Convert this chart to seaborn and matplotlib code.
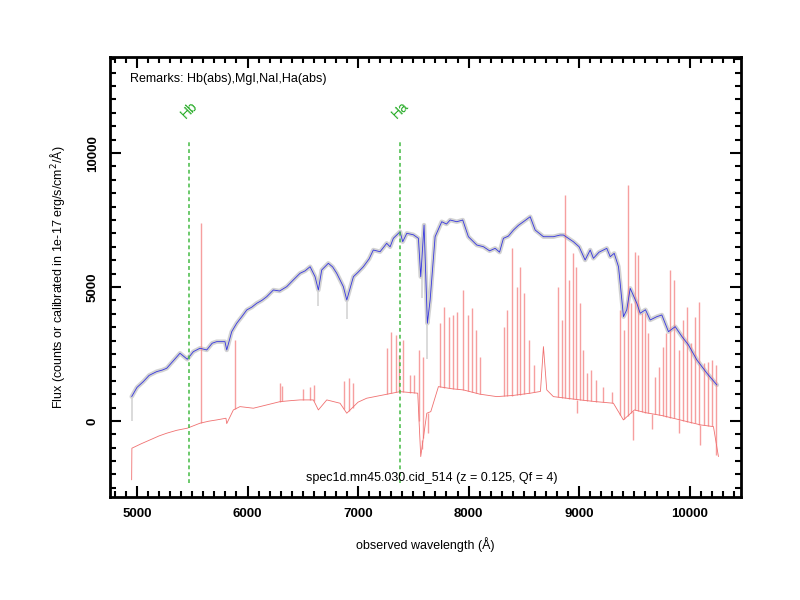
import matplotlib
matplotlib.use("Agg")
import matplotlib.pyplot as plt
import matplotlib.ticker as ticker
import seaborn as sns
import pandas as pd
import numpy as np

# smoothed spectrum (blue)
blue_wave = [4952, 5000, 5057, 5110, 5178, 5230, 5269, 5330, 5389, 5455, 5510, 5570,
             5631, 5680, 5721, 5796, 5812, 5857, 5902, 5950, 5993, 6040, 6083, 6130,
             6174, 6234, 6290, 6355, 6414, 6475, 6520, 6566, 6611, 6641, 6671, 6731,
             6770, 6807, 6867, 6898, 6958, 7000, 7048, 7100, 7138, 7199, 7259, 7290,
             7319, 7380, 7404, 7441, 7500, 7546, 7567, 7597, 7627, 7652, 7697, 7757,
             7800, 7833, 7893, 7947, 7998, 8074, 8134, 8190, 8240, 8280, 8315, 8360,
             8406, 8450, 8496, 8557, 8602, 8677, 8767, 8828, 8858, 8948, 9000, 9054,
             9100, 9129, 9180, 9250, 9281, 9317, 9356, 9371, 9401, 9431, 9462, 9522,
             9552, 9600, 9643, 9703, 9748, 9808, 9869, 9930, 9989, 10065, 10156, 10246]
blue_flux = [907, 1250, 1466, 1700, 1840, 1900, 1966, 2250, 2526, 2302, 2586, 2713,
             2649, 2900, 2959, 2959, 2649, 3332, 3644, 3900, 4142, 4250, 4391, 4500,
             4638, 4888, 4850, 5012, 5261, 5511, 5600, 5757, 5385, 4888, 5634, 5884,
             5750, 5511, 5012, 4515, 5385, 5550, 5757, 6050, 6381, 6317, 6630, 6500,
             6817, 7063, 6690, 7004, 6950, 6817, 5384, 7313, 3645, 4515, 6877, 7437,
             7350, 7500, 7437, 7500, 6877, 6567, 6504, 6350, 6443, 6300, 6817, 6900,
             7127, 7300, 7437, 7623, 7127, 6877, 6877, 6940, 6940, 6690, 6500, 6007,
             6381, 6071, 6300, 6443, 6131, 6257, 5757, 5149, 3892, 4150, 4950, 4391,
             4019, 4150, 3769, 3892, 3955, 3332, 3519, 3150, 2836, 2276, 1780, 1343]

# deep dips of the raw (grey) spectrum
grey_dip_wave = [4952, 6641, 6898, 7576, 7627]
grey_dip_low = [0, 4300, 3800, 4600, 2300]
grey_dip_high = [1000, 4900, 4500, 5400, 3650]

# error / sky spectrum (red) continuum
red_wave = [4952, 4954, 5040, 5118, 5200, 5269, 5360, 5455, 5570, 5650, 5721, 5805,
            5812, 5872, 5932, 6053, 6174, 6294, 6400, 6475, 6596, 6641, 6717, 6837,
            6898, 7000, 7078, 7229, 7380, 7470, 7540, 7567, 7622, 7658, 7727, 7850,
            7953, 8100, 8255, 8400, 8557, 8650, 8677, 8707, 8767, 9009, 9150, 9310,
            9400, 9500, 9611, 9750, 9914, 10100, 10215, 10260]
red_flux = [-2200, -1019, -850, -709, -560, -459, -350, -272, -86, -10, 37, 100,
            -100, 410, 534, 474, 597, 720, 760, 784, 784, 410, 784, 660,
            287, 700, 847, 970, 1093, 1060, 1034, -1332, 287, 347, 1280, 1200,
            1157, 1000, 907, 950, 1034, 1100, 2773, 1157, 907, 784, 720, 660,
            37, 410, 300, 200, 37, -150, -213, -1332]

# sky line residuals (red spikes): wavelength and peak flux
sky_wave = [5579, 5887, 6294, 6310, 6500, 6566, 6600, 6870, 6920, 6950,
            7260, 7299, 7344, 7374, 7404, 7471, 7510, 7552, 7591,
            7742, 7781, 7827, 7857, 7893, 7947, 7998, 8029, 8065, 8104,
            8321, 8346, 8391, 8436, 8466, 8505, 8550, 8596,
            8813, 8843, 8873, 8912, 8942, 8973, 9009, 9039, 9069, 9106, 9154, 9214, 9296,
            9371, 9407, 9441, 9471, 9501, 9536, 9567, 9597, 9627, 9688, 9718, 9757, 9787,
            9824, 9860, 9899, 9939, 9980, 10014, 10044, 10086, 10125, 10165, 10201, 10240]
sky_peak = [7377, 3022, 1418, 1300, 1200, 1280, 1350, 1500, 1600, 1400,
            2713, 3332, 3209, 2463, 3022, 1716, 1716, 2649, 2400,
            3645, 4265, 3892, 3955, 4078, 4888, 3955, 4205, 3396, 2400,
            3519, 4142, 6443, 5012, 5757, 4764, 3022, 2090,
            5012, 3769, 8433, 5261, 6257, 5757, 4391, 2649, 1780, 1903, 1530, 1280, 1093,
            4142, 3396, 8806, 4391, 6317, 6194, 4019, 4019, 3272, 1653, 2026, 2773, 3272,
            5634, 5261, 2649, 3769, 4265, 2899, 3892, 4452, 2153, 2213, 2276, 2090]

# negative residuals below the red continuum
neg_wave = [7576, 7631, 8979, 9489, 9660, 9900, 10095, 10240]
neg_low = [-709, -459, 287, -709, -300, -450, -895, -1268]

lines_name = ["Hb", "Ha"]
lines_wave = [5469, 7383]

remarks = "Remarks: Hb(abs),MgI,NaI,Ha(abs)"
title = "spec1d.mn45.030.cid_514 (z = 0.125, Qf = 4)"

sns.set_style("ticks")
plt.rcParams['font.family'] = ['Liberation Sans', 'DejaVu Sans']
plt.rcParams['text.color'] = 'black'
plt.rcParams['axes.labelcolor'] = 'black'
plt.rcParams['axes.edgecolor'] = 'black'
plt.rcParams['xtick.color'] = 'black'
plt.rcParams['ytick.color'] = 'black'

fig = plt.figure(figsize=(8, 6), dpi=100)
ax = fig.add_axes([0.1375, 0.1717, 0.789, 0.733])

blue = pd.DataFrame({'wave': blue_wave, 'flux': blue_flux})
red = pd.DataFrame({'wave': red_wave, 'flux': red_flux})

# raw spectrum as a grey band under the smoothed one
sns.lineplot(data=blue, x='wave', y='flux', ax=ax, color='#c4c4c4', lw=3.2,
             alpha=0.75, estimator=None, sort=False)
ax.vlines(grey_dip_wave, grey_dip_low, grey_dip_high, color='#d4d4d4', lw=1.2)

# red spectrum
sky_base = np.interp(sky_wave, red_wave, red_flux)
ax.vlines(sky_wave, sky_base, sky_peak, color='#f58e8e', lw=1.0, alpha=0.85)
neg_base = np.interp(neg_wave, red_wave, red_flux)
ax.vlines(neg_wave, neg_low, neg_base, color='#f58e8e', lw=1.0, alpha=0.85)
sns.lineplot(data=red, x='wave', y='flux', ax=ax, color='#f07070', lw=0.6,
             estimator=None, sort=False)

sns.lineplot(data=blue, x='wave', y='flux', ax=ax, color='#3535e0', lw=0.6,
             estimator=None, sort=False)

# line markers
for name, w in zip(lines_name, lines_wave):
    ax.vlines(w, -2300, 10500, color='#44bb44', lw=1.1, linestyles=(0, (2.5, 2)))
    ax.text(w, 11600, name, color='#22aa22', rotation=45, ha='center', va='center',
            fontsize=10)

ax.text(0.032, 0.965, remarks, transform=ax.transAxes, fontsize=9, va='top')
ax.text(0.51, 0.03, title, transform=ax.transAxes, fontsize=9, ha='center', va='bottom')

ax.set_xlim(4756, 10466)
ax.set_ylim(-2840, 13580)
ax.xaxis.set_major_locator(ticker.MultipleLocator(1000))
ax.xaxis.set_minor_locator(ticker.MultipleLocator(100))
ax.yaxis.set_major_locator(ticker.MultipleLocator(5000))
ax.yaxis.set_minor_locator(ticker.MultipleLocator(500))
ax.tick_params(which='both', direction='in', top=True, right=True, width=1.5)
ax.tick_params(which='major', length=8, labelsize=9.5, pad=8)
ax.tick_params(which='minor', length=4)
for lab in ax.get_xticklabels() + ax.get_yticklabels():
    lab.set_fontweight('bold')
for lab in ax.get_yticklabels():
    lab.set_rotation(90)
    lab.set_va('center')
for sp in ax.spines.values():
    sp.set_linewidth(2)

ax.set_xlabel("observed wavelength (Å)", fontsize=9, labelpad=12)
ax.set_ylabel("Flux (counts or calibrated in 1e-17 erg/s/cm$^2$/Å)", fontsize=9, labelpad=14)

plt.savefig('out.png', dpi=100)
